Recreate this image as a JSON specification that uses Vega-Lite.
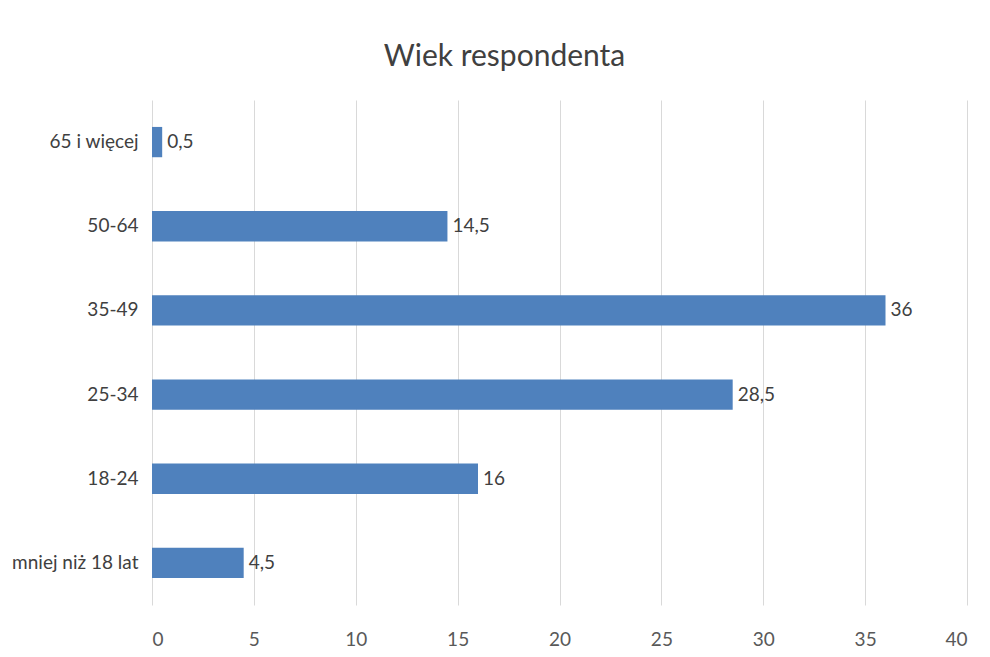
{
  "$schema": "https://vega.github.io/schema/vega-lite/v6.json",
  "width": 815,
  "height": 505,
  "autosize": "none",
  "padding": {"left": 152, "top": 100, "right": 23, "bottom": 52},
  "background": "white",
  "title": {
    "text": "Wiek respondenta",
    "font": "Lato",
    "fontSize": 30,
    "fontWeight": "normal",
    "color": "#404040",
    "anchor": "middle",
    "dx": -55,
    "offset": 28
  },
  "data": {
    "values": [
      {"wiek": "65 i więcej", "procent": 0.5},
      {"wiek": "50-64", "procent": 14.5},
      {"wiek": "35-49", "procent": 36},
      {"wiek": "25-34", "procent": 28.5},
      {"wiek": "18-24", "procent": 16},
      {"wiek": "mniej niż 18 lat", "procent": 4.5}
    ]
  },
  "encoding": {
    "y": {
      "field": "wiek",
      "type": "nominal",
      "sort": null,
      "scale": {"paddingInner": 0.64, "paddingOuter": 0.32},
      "axis": {
        "title": null,
        "domain": false,
        "ticks": false,
        "labelPadding": 14,
        "labelFont": "Lato",
        "labelFontSize": 19,
        "labelColor": "#404040",
        "labelLimit": 300
      }
    },
    "x": {
      "field": "procent",
      "type": "quantitative",
      "scale": {"domain": [0, 40]},
      "axis": {
        "title": null,
        "values": [0, 5, 10, 15, 20, 25, 30, 35, 40],
        "domain": false,
        "ticks": false,
        "grid": true,
        "gridColor": "#d9d9d9",
        "gridWidth": 1,
        "labelPadding": 25,
        "labelFont": "Lato",
        "labelFontSize": 19,
        "labelColor": "#595959"
      }
    }
  },
  "layer": [
    {"mark": {"type": "bar", "color": "#4f81bd"}},
    {
      "mark": {"type": "text", "align": "left", "dx": 5, "font": "Lato", "fontSize": 19, "color": "#404040"},
      "encoding": {"text": {"field": "procent", "type": "quantitative", "format": "~g"}}
    }
  ],
  "config": {
    "view": {"stroke": null},
    "locale": {"number": {"decimal": ",", "thousands": " ", "grouping": [3], "currency": ["", " zł"]}}
  }
}
